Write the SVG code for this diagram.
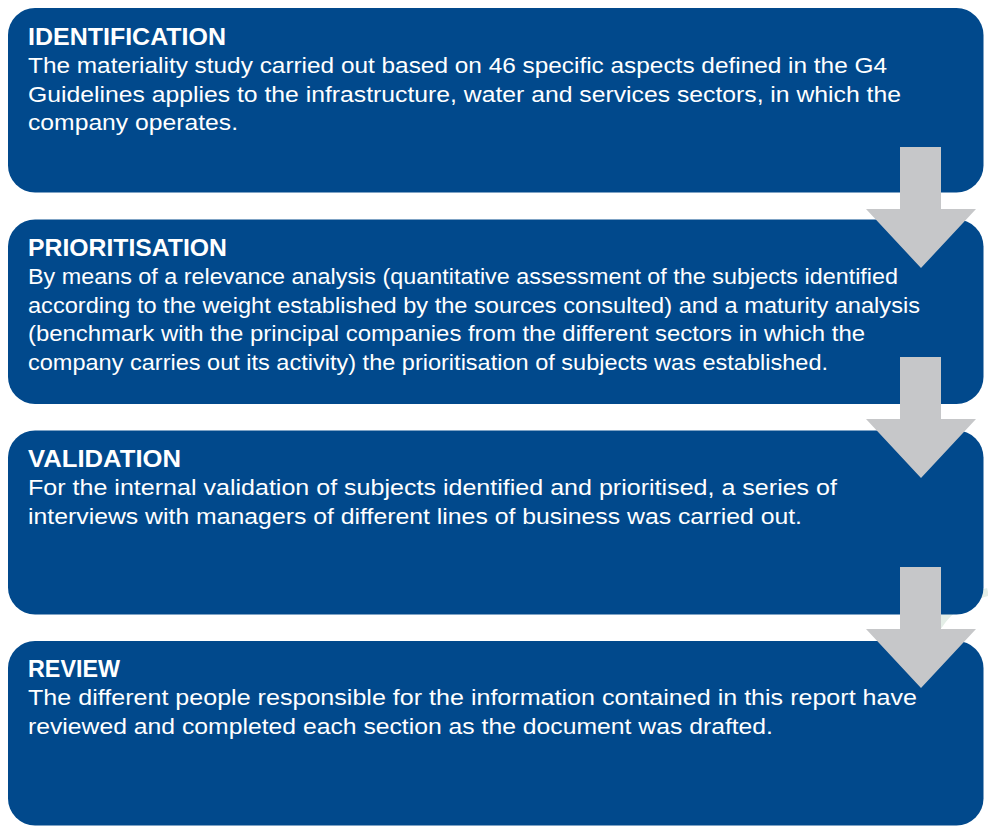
<svg xmlns="http://www.w3.org/2000/svg" width="988" height="827" viewBox="0 0 988 827">
<style>
.box{fill:#01498c}
.arrow{fill:#c6c7c9}
.title{font-family:"Liberation Sans",Arial,sans-serif;font-weight:bold;font-size:23px;fill:#ffffff}
.body{font-family:"Liberation Sans",Arial,sans-serif;font-size:22px;fill:#ffffff}
.wm{fill:none;stroke:#e4eee7;stroke-width:8}
</style>
<rect width="988" height="827" fill="#ffffff"/>
<path class="wm" d="M938,626 Q955,600 988,592"/>
<g id="identification">
<rect class="box" x="8" y="8" width="975.5" height="184.5" rx="27" ry="27"/>
<text class="title" x="28" y="45" textLength="198" lengthAdjust="spacingAndGlyphs">IDENTIFICATION</text>
<text class="body" x="28" y="73" textLength="859" lengthAdjust="spacingAndGlyphs">The materiality study carried out based on 46 specific aspects defined in the G4</text>
<text class="body" x="28" y="101.5" textLength="873" lengthAdjust="spacingAndGlyphs">Guidelines applies to the infrastructure, water and services sectors, in which the</text>
<text class="body" x="28" y="130" textLength="210" lengthAdjust="spacingAndGlyphs">company operates.</text>
</g>
<g id="prioritisation">
<rect class="box" x="8" y="219.5" width="975.5" height="184.5" rx="27" ry="27"/>
<text class="title" x="28" y="256" textLength="199" lengthAdjust="spacingAndGlyphs">PRIORITISATION</text>
<text class="body" x="28" y="284" textLength="870" lengthAdjust="spacingAndGlyphs">By means of a relevance analysis (quantitative assessment of the subjects identified</text>
<text class="body" x="28" y="312.5" textLength="892" lengthAdjust="spacingAndGlyphs">according to the weight established by the sources consulted) and a maturity analysis</text>
<text class="body" x="28" y="341" textLength="837" lengthAdjust="spacingAndGlyphs">(benchmark with the principal companies from the different sectors in which the</text>
<text class="body" x="28" y="369.5" textLength="800" lengthAdjust="spacingAndGlyphs">company carries out its activity) the prioritisation of subjects was established.</text>
</g>
<g id="validation">
<rect class="box" x="8" y="430.5" width="975.5" height="184" rx="27" ry="27"/>
<text class="title" x="28" y="467" textLength="153" lengthAdjust="spacingAndGlyphs">VALIDATION</text>
<text class="body" x="28" y="495" textLength="809" lengthAdjust="spacingAndGlyphs">For the internal validation of subjects identified and prioritised, a series of</text>
<text class="body" x="28" y="523.5" textLength="774" lengthAdjust="spacingAndGlyphs">interviews with managers of different lines of business was carried out.</text>
</g>
<g id="review">
<rect class="box" x="8" y="641" width="975.5" height="184.5" rx="27" ry="27"/>
<text class="title" x="28" y="677" textLength="92" lengthAdjust="spacingAndGlyphs">REVIEW</text>
<text class="body" x="28" y="705" textLength="889" lengthAdjust="spacingAndGlyphs">The different people responsible for the information contained in this report have</text>
<text class="body" x="28" y="733.5" textLength="745" lengthAdjust="spacingAndGlyphs">reviewed and completed each section as the document was drafted.</text>
</g>
<g id="connectors">
<polygon class="arrow" points="900,147 941,147 941,209 976,209 921,268 866,209 900,209"/>
<polygon class="arrow" points="900,357 941,357 941,419 976,419 921,478 866,419 900,419"/>
<polygon class="arrow" points="900,567 941,567 941,629 976,629 921,688 866,629 900,629"/>
</g>
</svg>
